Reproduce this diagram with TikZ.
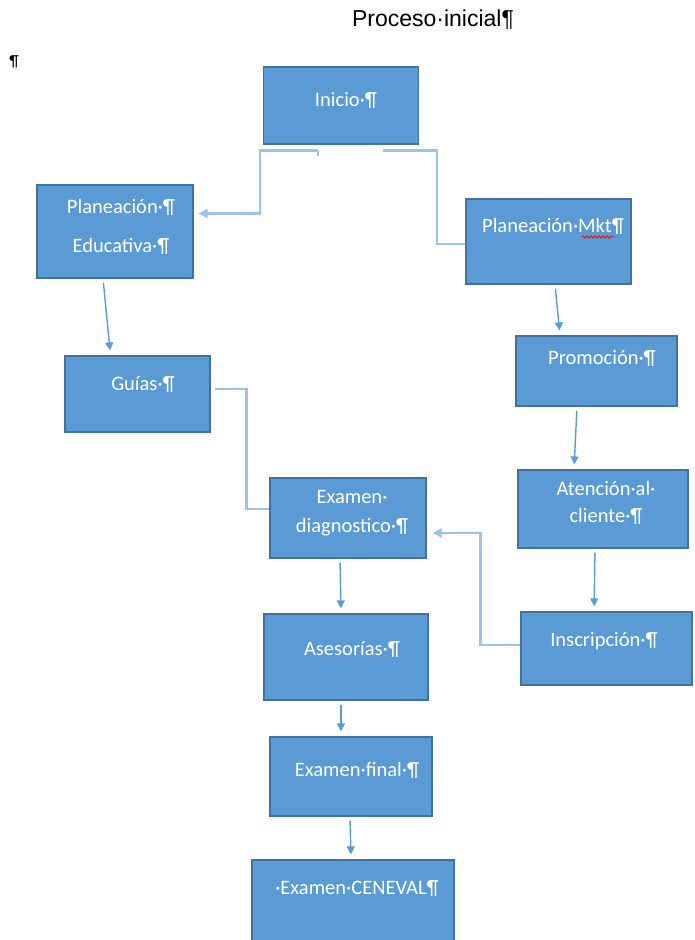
\documentclass[tikz,border=0pt]{standalone}
\usepackage{fontspec}
\setmainfont{Carlito}
\newfontfamily\titlefont{Liberation Sans}
\usetikzlibrary{arrows.meta, decorations.pathmorphing}

\definecolor{boxblue}{HTML}{5B9BD5}
\definecolor{boxedge}{HTML}{41719C}
\definecolor{elbowblue}{HTML}{9DC3E6}

\begin{document}
\begin{tikzpicture}[
    x=1pt, y=-1pt,
    box/.style={draw=boxedge, fill=boxblue, line width=1.2pt},
    boxtext/.style={text=white, anchor=base, align=center, font=\fontsize{20.5}{24}\selectfont},
    arrow/.style={-{Triangle[length=8pt, width=8pt]}, boxblue, line width=1.4pt, shorten <=4pt, shorten >=5pt},
    elbow/.style={elbowblue, line width=2.6pt},
    spellmark/.style={red, line width=0.8pt, decorate, decoration={snake, amplitude=1pt, segment length=4pt}}
]
    \useasboundingbox (0,0) rectangle (694,940);
    \clip (0,0) rectangle (694,940);

    \node[font=\titlefont\fontsize{23}{28}\selectfont] (title) at (433,20) {Proceso·inicial¶};
    \node[font=\fontsize{16}{18}\selectfont] (pil) at (14,62) {¶};

    % boxes
    \node[box, minimum width=155pt, minimum height=77pt] (inicio) at (341,105.5) {};
    \node[box, minimum width=156pt, minimum height=93pt] (planed) at (115,231.5) {};
    \node[box, minimum width=165pt, minimum height=85pt] (planmkt) at (548.5,241.5) {};
    \node[box, minimum width=161pt, minimum height=70pt] (promo) at (596.5,371) {};
    \node[box, minimum width=145pt, minimum height=76pt] (guias) at (137.5,394) {};
    \node[box, minimum width=170pt, minimum height=78pt] (atencion) at (603,509) {};
    \node[box, minimum width=156pt, minimum height=80pt] (exdiag) at (348,518) {};
    \node[box, minimum width=171pt, minimum height=73pt] (inscrip) at (606.5,648.5) {};
    \node[box, minimum width=164pt, minimum height=86pt] (asesor) at (346,657) {};
    \node[box, minimum width=162pt, minimum height=79pt] (exfinal) at (351,776.5) {};
    \node[box, minimum width=202pt, minimum height=84pt] (ceneval) at (353,902) {};

    % texts (base = last line)
    \node[boxtext] (inicio-t) at (346,106) {Inicio·¶};
    \node[boxtext] (planed-t) at (121,252) {Planeación·¶\\[15pt]Educativa·¶};
    \node[boxtext] (planmkt-t) at (553,232) {Planeación·Mkt¶};
    \node[boxtext] (promo-t) at (602,364) {Promoción·¶};
    \node[boxtext] (guias-t) at (143,390) {Guías·¶};
    \node[boxtext] (atencion-t) at (606,522) {Atención·al·\\[3pt]cliente·¶};
    \node[boxtext] (exdiag-t) at (352,532) {Examen·\\[5pt]diagnostico·¶};
    \node[boxtext] (inscrip-t) at (604,646) {Inscripción·¶};
    \node[boxtext] (asesor-t) at (352,655) {Asesorías·¶};
    \node[boxtext] (exfinal-t) at (357,776) {Examen·final·¶};
    \node[boxtext] (ceneval-t) at (357,894) {·Examen·CENEVAL¶};

    \draw[spellmark] (582,237) -- (614,237);

    % elbow connectors
    \coordinate (ini-l) at ([xshift=-23pt, yshift=-6pt]inicio.south);
    \coordinate (ini-r) at ([xshift=42pt, yshift=-6pt]inicio.south);
    \draw[elbow] (ini-l) -- ++(0,-5pt);
    \draw[elbow, -{Triangle[length=9pt, width=9pt]}] (ini-l) -- ++(-58pt,0) |- ([xshift=5pt, yshift=18pt]planed.east);
    \draw[elbow] (ini-r) -- ++(54pt,0) |- ([yshift=-2.5pt]planmkt.west);
    \draw[elbow] ([xshift=4pt, yshift=5pt]guias.east) -- ++(32pt,0) |- ([yshift=9pt]exdiag.west);
    \draw[elbow, -{Triangle[length=9pt, width=9pt]}] ([yshift=3.5pt]inscrip.west) -- ++(-40pt,0) |- ([xshift=6pt, yshift=-15pt]exdiag.east);

    % straight arrows
    \draw[arrow] ([xshift=-12pt]planed.south) -- ([xshift=-27pt]guias.north);
    \draw[arrow] ([xshift=6.5pt]planmkt.south) -- ([xshift=-36.5pt]promo.north);
    \draw[arrow] ([xshift=-19.5pt]promo.south) -- ([xshift=-29pt]atencion.north);
    \draw[arrow] ([xshift=-8pt]atencion.south) -- ([xshift=-12.5pt]inscrip.north);
    \draw[arrow] ([xshift=-8pt]exdiag.south) -- ([xshift=-5pt]asesor.north);
    \draw[arrow] ([xshift=-5pt]asesor.south) -- ([xshift=-10pt]exfinal.north);
    \draw[arrow] ([xshift=-1pt]exfinal.south) -- ([xshift=-2pt]ceneval.north);
\end{tikzpicture}
\end{document}
